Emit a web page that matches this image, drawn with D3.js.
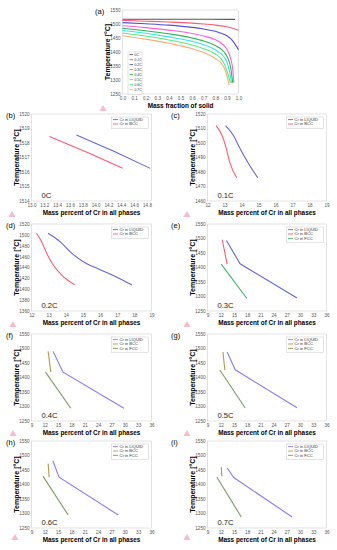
<!DOCTYPE html>
<html>
<head>
<meta charset="utf-8">
<script src="https://cdn.jsdelivr.net/npm/d3@7"></script>
<style>
body { margin: 0; background: #fff; }
text { font-family: "Liberation Sans", Arial, sans-serif; }
</style>
</head>
<body>
<div id="fig"></div>
<script>
// ---- data ----
// (a) temperature vs mass fraction of solid
var carbonLabels = ["0C", "0.1C", "0.2C", "0.3C", "0.4C", "0.5C", "0.6C", "0.7C"];
var carbonColors = ["#555555", "#ff5c72", "#5050d8", "#ff5fdc", "#2fb552", "#33e8e8", "#55ec78", "#ffab78"];
var fracTicks = [0, 0.1, 0.2, 0.3, 0.4, 0.5, 0.6, 0.7, 0.8, 0.9, 1.0];
var fracTempTicks = [1250, 1300, 1350, 1400, 1450, 1500, 1550];
var solid0C = [[0, 1517], [0.5, 1517], [0.97, 1516.5]];
var solid01C = [[0, 1513], [0.2, 1510], [0.4, 1507], [0.6, 1503], [0.7, 1500], [0.8, 1496], [0.9, 1490], [1.0, 1478]];
var solid02C = [[0, 1505], [0.2, 1501], [0.4, 1496], [0.6, 1488], [0.7, 1482], [0.8, 1474], [0.85, 1467], [0.9, 1458], [0.95, 1440], [0.98, 1422], [1.0, 1408]];
var solid03C = [[0, 1494], [0.2, 1487], [0.4, 1478], [0.6, 1466], [0.7, 1457], [0.8, 1444], [0.85, 1432], [0.9, 1410], [0.93, 1380], [0.95, 1340], [0.96, 1290]];
var solid04C = [[0, 1485], [0.2, 1476], [0.4, 1465], [0.6, 1450], [0.7, 1439], [0.8, 1423], [0.85, 1410], [0.9, 1385], [0.93, 1350], [0.95, 1290]];
var solid05C = [[0, 1477], [0.2, 1467], [0.4, 1454], [0.6, 1438], [0.7, 1426], [0.8, 1408], [0.85, 1393], [0.9, 1365], [0.92, 1335], [0.94, 1290]];
var solid06C = [[0, 1468], [0.2, 1457], [0.4, 1443], [0.6, 1425], [0.7, 1412], [0.8, 1393], [0.85, 1376], [0.88, 1355], [0.91, 1320], [0.93, 1290]];
var solid07C = [[0, 1458], [0.2, 1446], [0.4, 1431], [0.6, 1412], [0.7, 1398], [0.8, 1377], [0.85, 1360], [0.88, 1340], [0.9, 1315], [0.92, 1282]];

// (b)-(i) temperature vs mass percent of Cr in each phase
var phaseNames = ["Cr in LIQUID", "Cr in BCC", "Cr in FCC"];
var b_liquid = [[13.7, 1518.55], [14.3, 1517.4], [14.85, 1516.25]];
var b_bcc = [[13.28, 1518.45], [13.9, 1517.3], [14.42, 1516.26]];
var bCrTicks = [13.0, 13.2, 13.4, 13.6, 13.8, 14.0, 14.2, 14.4, 14.6, 14.8];
var bTempTicks = [1514, 1515, 1516, 1517, 1518, 1519, 1520];

var c_liquid = [[13.06, 1512], [13.5, 1505.7], [13.9, 1496.5], [14.4, 1486], [14.96, 1476]];
var c_bcc = [[12.5, 1512], [12.84, 1505.7], [13.1, 1496.5], [13.3, 1487], [13.72, 1476]];
var cCrTicks = [12, 13, 14, 15, 16, 17, 18, 19];
var cTempTicks = [1460, 1470, 1480, 1490, 1500, 1510, 1520];

var d_liquid = [[12.97, 1503], [13.65, 1488], [14.34, 1466.5], [15.0, 1451], [16.0, 1436], [16.97, 1422], [17.85, 1408]];
var d_bcc = [[12.29, 1503], [12.58, 1488], [12.88, 1466.5], [13.26, 1445], [13.75, 1426.5], [14.53, 1408]];
var dCrTicks = [12, 13, 14, 15, 16, 17, 18, 19];
var dTempTicks = [1360, 1380, 1400, 1420, 1440, 1460, 1480, 1500, 1520];

var e_liquid = [[13.3, 1493], [16.4, 1412.6], [29.3, 1295]];
var e_bcc = [[12.35, 1495.7], [13.45, 1411.6]];
var e_fcc = [[12.1, 1411.6], [17.9, 1294]];
var f_liquid = [[13.86, 1490], [16.1, 1418.5], [29.8, 1294]];
var f_bcc = [[12.74, 1490], [13.35, 1418.5]];
var f_fcc = [[12.15, 1418.5], [17.85, 1294]];
var g_liquid = [[13.46, 1488], [15.3, 1426.5], [29.3, 1296]];
var g_bcc = [[12.5, 1488], [12.93, 1426]];
var g_fcc = [[11.8, 1426], [17.55, 1295]];
var h_liquid = [[13.8, 1482], [15.2, 1425.5], [28.5, 1295]];
var h_bcc = [[12.75, 1472], [12.97, 1425.5]];
var h_fcc = [[11.6, 1428], [17.25, 1295]];
var i_liquid = [[13.46, 1457], [14.94, 1424], [28.2, 1288]];
var i_bcc = [[12.13, 1460], [12.26, 1428]];
var i_fcc = [[11.1, 1426], [16.66, 1288]];
var wideCrTicks = [9, 12, 15, 18, 21, 24, 27, 30, 33, 36];
var wideTempTicks = [1250, 1300, 1350, 1400, 1450, 1500, 1550];

var w = 337;
var h = 550;
var svg = d3.select("#fig")
    .append("svg")
    .attr("width", w)
    .attr("height", h);

// draws one framed panel with its axes, curves and legend
function panel(p) {
    var x = d3.scaleLinear().domain(p.xDomain).range([p.left, p.right]);
    var y = d3.scaleLinear().domain(p.yDomain).range([p.bottom, p.top]);
    var g = svg.append("g");

    g.append("rect")
        .attr("x", p.left)
        .attr("y", p.top)
        .attr("width", p.right - p.left)
        .attr("height", p.bottom - p.top)
        .attr("fill", "none")
        .attr("stroke", "#cfcfcf")
        .attr("stroke-width", 0.6);

    var xAxis = d3.axisBottom(x).tickValues(p.xTicks).tickFormat(d3.format(p.xFmt)).tickSize(0).tickPadding(3);
    var yAxis = d3.axisLeft(y).tickValues(p.yTicks).tickFormat(d3.format("d")).tickSize(0).tickPadding(2);

    var ax = g.append("g").attr("transform", "translate(0," + p.bottom + ")").call(xAxis);
    var ay = g.append("g").attr("transform", "translate(" + p.left + ",0)").call(yAxis);
    [ax, ay].forEach(function(a) {
        a.select(".domain").remove();
        a.selectAll("text").attr("font-size", 4.6).attr("fill", "#555").style("font-family", "Liberation Sans, Arial, sans-serif");
    });

    g.append("text")
        .attr("x", (p.left + p.right) / 2)
        .attr("y", p.bottom + 14)
        .attr("text-anchor", "middle")
        .attr("font-size", 6.4)
        .attr("font-weight", "bold")
        .text(p.xTitle);

    g.append("text")
        .attr("transform", "translate(" + (p.left - 13) + "," + ((p.top + p.bottom) / 2) + ") rotate(-90)")
        .attr("text-anchor", "middle")
        .attr("font-size", 7)
        .attr("font-weight", "bold")
        .text("Temperature [°C]");

    g.append("text")
        .attr("x", p.labelX)
        .attr("y", p.top + 4)
        .attr("font-size", 7.5)
        .text(p.label);

    if (p.comp) {
        g.append("text")
            .attr("x", p.left + 10)
            .attr("y", p.bottom - 3)
            .attr("font-size", 7.6)
            .attr("fill", "#222")
            .text(p.comp);
    }

    var line = d3.line()
        .x(function(d) { return x(d[0]); })
        .y(function(d) { return y(d[1]); })
        .curve(p.curve || d3.curveLinear);

    g.selectAll("path.series")
        .data(p.series)
        .enter()
        .append("path")
        .attr("class", "series")
        .attr("d", function(d) { return line(d.values); })
        .attr("fill", "none")
        .attr("stroke", function(d) { return d.color; })
        .attr("stroke-width", p.lineWidth || 1.1);

    // legend
    var lg = p.legend;
    var lgH = p.series.length * lg.step + 2.5;
    var box = g.append("g").attr("transform", "translate(" + lg.x + "," + lg.y + ")");
    box.append("rect")
        .attr("width", lg.w)
        .attr("height", lgH)
        .attr("fill", "#fff")
        .attr("stroke", "#bbb")
        .attr("stroke-width", 0.4);
    var item = box.selectAll("g.item")
        .data(p.series)
        .enter()
        .append("g")
        .attr("transform", function(d, i) { return "translate(1.5," + (2.6 + lg.step * i) + ")"; });
    item.append("line")
        .attr("x1", 0).attr("x2", lg.sample)
        .attr("stroke", function(d) { return d.color; })
        .attr("stroke-width", 0.9);
    item.append("text")
        .attr("x", lg.sample + 1.5)
        .attr("y", lg.font * 0.35)
        .attr("font-size", lg.font)
        .attr("fill", "#333")
        .text(function(d) { return d.name; });
}

// (a)
var solidCurves = [solid0C, solid01C, solid02C, solid03C, solid04C, solid05C, solid06C, solid07C];
panel({
    left: 122.5, right: 238.5, top: 10, bottom: 94,
    xDomain: [0, 1], yDomain: [1250, 1550],
    xTicks: fracTicks, yTicks: fracTempTicks, xFmt: ".1f",
    xTitle: "Mass fraction of solid", label: "(a)", labelX: 95,
    curve: d3.curveMonotoneX,
    series: solidCurves.map(function(v, i) { return { values: v, color: carbonColors[i], name: carbonLabels[i] }; }),
    legend: { x: 128, y: 52, w: 14, step: 5, sample: 3.5, font: 3.4 }
});

var liqBlue = "#6464de", bccRed = "#ff5a70", fccGreen = "#3db868";
var liqPurple = "#8a7cef", bccTan = "#b8954e", fccOlive = "#7d9b62";
var leftCol = { left: 31.5, right: 151.5, labelX: 6 };
var rightCol = { left: 207.5, right: 326.5, labelX: 171 };
var rows = [
    { top: 114, bottom: 201 },
    { top: 224, bottom: 311 },
    { top: 334, bottom: 421 },
    { top: 441, bottom: 528 }
];

function small(col, row, opt) {
    var nSeries = opt.series.length;
    opt.left = col.left;
    opt.right = col.right;
    opt.labelX = col.labelX;
    opt.top = row.top;
    opt.bottom = row.bottom;
    opt.xTitle = "Mass percent of Cr in all phases";
    opt.legend = { x: col.right - 40, y: row.top + 3, w: 37, step: 4.4, sample: 5, font: 4.1 };
    panel(opt);
}

function phases(vals, colors) {
    return vals.map(function(v, i) { return { values: v, color: colors[i], name: phaseNames[i] }; });
}

small(leftCol, rows[0], {
    xDomain: [13, 14.87], yDomain: [1514, 1520], xTicks: bCrTicks, yTicks: bTempTicks, xFmt: ".1f",
    label: "(b)", comp: "0C", series: phases([b_liquid, b_bcc], [liqBlue, bccRed])
});
small(rightCol, rows[0], {
    xDomain: [12, 19], yDomain: [1460, 1520], xTicks: cCrTicks, yTicks: cTempTicks, xFmt: "d",
    label: "(c)", comp: "0.1C", curve: d3.curveMonotoneX, series: phases([c_liquid, c_bcc], [liqBlue, bccRed])
});
small(leftCol, rows[1], {
    xDomain: [12, 19], yDomain: [1360, 1520], xTicks: dCrTicks, yTicks: dTempTicks, xFmt: "d",
    label: "(d)", comp: "0.2C", curve: d3.curveMonotoneX, series: phases([d_liquid, d_bcc], [liqBlue, bccRed])
});
small(rightCol, rows[1], {
    xDomain: [9, 36], yDomain: [1250, 1550], xTicks: wideCrTicks, yTicks: wideTempTicks, xFmt: "d",
    label: "(e)", comp: "0.3C", series: phases([e_liquid, e_bcc, e_fcc], [liqBlue, bccRed, fccGreen])
});
small(leftCol, rows[2], {
    xDomain: [9, 36], yDomain: [1250, 1550], xTicks: wideCrTicks, yTicks: wideTempTicks, xFmt: "d",
    label: "(f)", comp: "0.4C", series: phases([f_liquid, f_bcc, f_fcc], [liqPurple, bccTan, fccOlive])
});
small(rightCol, rows[2], {
    xDomain: [9, 36], yDomain: [1250, 1550], xTicks: wideCrTicks, yTicks: wideTempTicks, xFmt: "d",
    label: "(g)", comp: "0.5C", series: phases([g_liquid, g_bcc, g_fcc], [liqPurple, bccTan, fccOlive])
});
small(leftCol, rows[3], {
    xDomain: [9, 36], yDomain: [1250, 1550], xTicks: wideCrTicks, yTicks: wideTempTicks, xFmt: "d",
    label: "(h)", comp: "0.6C", series: phases([h_liquid, h_bcc, h_fcc], [liqPurple, bccTan, fccOlive])
});
small(rightCol, rows[3], {
    xDomain: [9, 36], yDomain: [1250, 1550], xTicks: wideCrTicks, yTicks: wideTempTicks, xFmt: "d",
    label: "(i)", comp: "0.7C", series: phases([i_liquid, i_bcc, i_fcc], [liqPurple, bccTan, fccOlive])
});

// small pale warning marks that sit beside the axis titles in the source figure
var markPos = [[103, 109], [12, 215], [187, 215], [13, 325], [187, 325], [13, 434], [187, 434], [15, 538], [187, 538]];
svg.selectAll("path.mark")
    .data(markPos)
    .enter()
    .append("path")
    .attr("class", "mark")
    .attr("d", d3.symbol().type(d3.symbolTriangle).size(22))
    .attr("transform", function(d) { return "translate(" + d[0] + "," + d[1] + ")"; })
    .attr("fill", "#f5bccb");
</script>
</body>
</html>
